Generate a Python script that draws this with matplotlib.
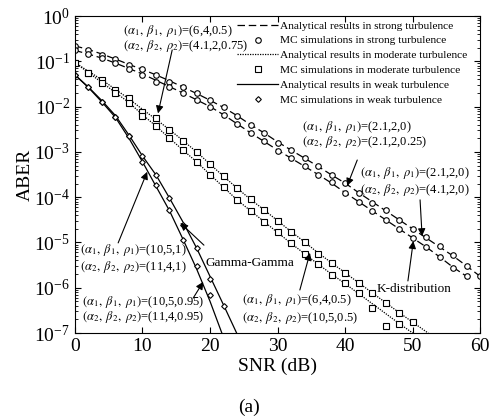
import matplotlib
matplotlib.use("Agg")
import matplotlib.pyplot as plt
from matplotlib.lines import Line2D
import numpy as np

plt.rcParams["font.family"] = ["Liberation Serif", "DejaVu Serif"]
plt.rcParams["mathtext.fontset"] = "stix"

# values are log10(ABER)
snr_strong = np.arange(0, 62, 2)
strong_a1 = [-0.66, -0.74, -0.84, -0.95, -1.07, -1.18, -1.30, -1.43, -1.57, -1.71,
             -1.86, -2.02, -2.20, -2.40, -2.58, -2.78, -2.96, -3.14, -3.32, -3.51,
             -3.69, -3.90, -4.10, -4.30, -4.50, -4.70, -4.90, -5.10, -5.30, -5.52, -5.75]
snr_strong2 = np.arange(0, 60, 2)
strong_a2 = [-0.76, -0.84, -0.93, -1.04, -1.16, -1.28, -1.42, -1.56, -1.70, -1.85,
             -2.00, -2.18, -2.38, -2.58, -2.77, -2.96, -3.14, -3.32, -3.50, -3.69,
             -3.90, -4.10, -4.30, -4.50, -4.70, -4.90, -5.10, -5.32, -5.55, -5.75]
strong_mc1 = [-0.66, -0.74, -0.85, -0.95, -1.08, -1.18, -1.30, -1.45, -1.57, -1.71,
              -1.86, -2.02, -2.20, -2.41, -2.59, -2.81, -2.96, -3.14, -3.32, -3.51,
              -3.68, -3.91, -4.13, -4.28, -4.50, -4.71, -4.87, -5.08, -5.28, -5.52, -5.75]
strong_mc2 = [-0.76, -0.84, -0.93, -1.04, -1.16, -1.30, -1.45, -1.57, -1.70, -1.85,
              -2.00, -2.18, -2.38, -2.59, -2.77, -2.97, -3.14, -3.32, -3.50, -3.66,
              -3.90, -4.10, -4.30, -4.50, -4.71, -4.91, -5.10, -5.33, -5.57, -5.75]

snr_mod1 = np.arange(0, 56, 2)
mod_a1 = [-1.03, -1.22, -1.41, -1.62, -1.83, -2.06, -2.28, -2.51, -2.75, -3.00,
          -3.27, -3.54, -3.80, -4.05, -4.28, -4.52, -4.76, -4.99, -5.23, -5.45,
          -5.67, -5.89, -6.11, -6.33, -6.55, -6.76, -6.97, -7.20]
snr_mod2 = np.arange(0, 54, 2)
mod_a2 = [-1.03, -1.25, -1.47, -1.69, -1.91, -2.18, -2.43, -2.70, -2.96, -3.22,
          -3.50, -3.78, -4.06, -4.30, -4.54, -4.78, -5.02, -5.25, -5.48, -5.70,
          -5.91, -6.13, -6.35, -6.57, -6.79, -7.00, -7.22]
snr_mod_mc1 = np.arange(0, 52, 2)
mod_mc1 = [-1.03, -1.25, -1.41, -1.63, -1.82, -2.11, -2.26, -2.52, -2.75, -3.00,
           -3.27, -3.54, -3.80, -4.05, -4.28, -4.52, -4.76, -4.98, -5.25, -5.46,
           -5.67, -5.89, -6.12, -6.33, -6.56, -6.75]
snr_mod_mc2 = np.arange(0, 50, 2)
mod_mc2 = [-1.03, -1.25, -1.47, -1.69, -1.91, -2.21, -2.43, -2.70, -2.96, -3.22,
           -3.50, -3.78, -4.06, -4.30, -4.54, -4.78, -5.02, -5.25, -5.47, -5.72,
           -5.90, -6.12, -6.45, -6.84, -6.80]

snr_weak1 = np.arange(0, 26, 2)
weak_a1 = [-1.30, -1.57, -1.87, -2.20, -2.63, -3.09, -3.51, -4.02, -4.55, -5.12,
           -5.75, -6.38, -7.02]
snr_weak2 = np.arange(0, 24, 2)
weak_a2 = [-1.30, -1.58, -1.90, -2.24, -2.70, -3.22, -3.76, -4.30, -4.93, -5.58,
           -6.30, -7.10]
snr_weak_mc1 = np.arange(0, 24, 2)
weak_mc1 = [-1.30, -1.57, -1.89, -2.22, -2.65, -3.09, -3.51, -4.02, -4.61, -5.12,
            -5.81, -6.40]
snr_weak_mc2 = np.arange(0, 22, 2)
weak_mc2 = [-1.30, -1.57, -1.89, -2.22, -2.65, -3.22, -3.73, -4.28, -4.94, -5.52,
            -6.16]

legend_labels = [
    "Analytical results in strong turbulence",
    "MC simulations in strong turbulence",
    "Analytical results in moderate turbulence",
    "MC simulations in moderate turbulence",
    "Analytical results in weak turbulence",
    "MC simulations in weak turbulence",
]


def ber(v):
    return np.power(10.0, np.asarray(v))


def two_lines(ax, x, y1, y2, l1, l2, fs=9):
    ax.text(x, y1, l1, fontsize=fs, ha="left", va="center")
    ax.text(x, y2, l2, fontsize=fs, ha="left", va="center")


def arrow(ax, tail, tip):
    ax.annotate("", xy=tip, xytext=tail,
                arrowprops=dict(arrowstyle="-|>", color="k", lw=0.8,
                                mutation_scale=11, shrinkA=0, shrinkB=0))


def main():
    fig = plt.figure(figsize=(4.93, 4.16), dpi=100)
    ax = fig.add_axes([0.152, 0.1995, 0.822, 0.762])

    dash = (0, (6, 3))
    dot = (0, (1, 1))
    mk = dict(ls="none", mfc="white", mec="k", mew=0.8)

    ax.plot(snr_strong, ber(strong_a1), color="k", lw=0.9, ls=dash)
    ax.plot(snr_strong2, ber(strong_a2), color="k", lw=0.9, ls=dash)
    ax.plot(snr_strong, ber(strong_mc1), marker="o", ms=4, **mk)
    ax.plot(snr_strong2, ber(strong_mc2), marker="o", ms=4, **mk)

    ax.plot(snr_mod1, ber(mod_a1), color="k", lw=0.9, ls=dot)
    ax.plot(snr_mod2, ber(mod_a2), color="k", lw=0.9, ls=dot)
    ax.plot(snr_mod_mc1, ber(mod_mc1), marker="s", ms=3.8, **mk)
    ax.plot(snr_mod_mc2, ber(mod_mc2), marker="s", ms=3.8, **mk)

    ax.plot(snr_weak1, ber(weak_a1), color="k", lw=0.9)
    ax.plot(snr_weak2, ber(weak_a2), color="k", lw=0.9)
    ax.plot(snr_weak_mc1, ber(weak_mc1), marker="D", ms=2.9, **mk)
    ax.plot(snr_weak_mc2, ber(weak_mc2), marker="D", ms=2.9, **mk)

    ax.set_yscale("log")
    ax.set_xlim(0, 60)
    ax.set_ylim(1e-7, 1)
    ax.set_xticks(np.arange(0, 61, 10))
    ax.tick_params(which="both", direction="in", top=True, right=True,
                   labelsize=14)
    ax.tick_params(which="major", length=4)
    ax.tick_params(which="minor", length=2)
    ax.set_xlabel("SNR (dB)", fontsize=14, labelpad=2)
    ax.set_ylabel("ABER", fontsize=14, labelpad=0)

    handles = [
        Line2D([], [], color="k", lw=0.9, ls=dash),
        Line2D([], [], marker="o", ms=4, **mk),
        Line2D([], [], color="k", lw=0.9, ls=dot),
        Line2D([], [], marker="s", ms=3.8, **mk),
        Line2D([], [], color="k", lw=0.9),
        Line2D([], [], marker="D", ms=2.9, **mk),
    ]
    ax.legend(handles, legend_labels, loc="upper left",
              bbox_to_anchor=(0.40, 0.985), frameon=False, fontsize=8.2,
              handlelength=3.6, handletextpad=0.2, labelspacing=0.42,
              borderpad=0, borderaxespad=0)

    a1 = r"$(\alpha_1,\ \beta_1,\ \rho_1)$"
    a2 = r"$(\alpha_2,\ \beta_2,\ \rho_2)$"

    two_lines(ax, 7.1, 10 ** -0.33, 10 ** -0.66, a1 + "=(6,4,0.5)", a2 + "=(4.1,2,0.75)")
    arrow(ax, (14.4, 10 ** -0.75), (12.3, 10 ** -2.15))

    two_lines(ax, 33.6, 10 ** -2.45, 10 ** -2.78, a1 + "=(2.1,2,0)", a2 + "=(2.1,2,0.25)")
    arrow(ax, (41.8, 10 ** -3.18), (40.3, 10 ** -3.75))

    two_lines(ax, 42.2, 10 ** -3.47, 10 ** -3.84, a1 + "=(2.1,2,0)", a2 + "=(4.1,2,0)")
    arrow(ax, (51.1, 10 ** -4.06), (51.4, 10 ** -4.86))

    ax.text(44.7, 10 ** -6.03, "K-distribution", fontsize=9.5, ha="left", va="center")
    arrow(ax, (49.3, 10 ** -5.85), (50.1, 10 ** -4.97))

    two_lines(ax, 24.7, 10 ** -6.27, 10 ** -6.67, a1 + "=(6,4,0.5)", a2 + "=(10,5,0.5)")
    arrow(ax, (33.3, 10 ** -6.05), (34.8, 10 ** -5.23))

    ax.text(19.3, 10 ** -5.45, "Gamma-Gamma", fontsize=9.5, ha="left", va="center")
    arrow(ax, (19.1, 10 ** -5.06), (15.6, 10 ** -4.57))

    two_lines(ax, 0.74, 10 ** -5.17, 10 ** -5.54, a1 + "=(10,5,1)", a2 + "=(11,4,1)")
    arrow(ax, (6.4, 10 ** -5.01), (10.7, 10 ** -3.44))

    two_lines(ax, 1.04, 10 ** -6.31, 10 ** -6.64, a1 + "=(10,5,0.95)", a2 + "=(11,4,0.95)")
    arrow(ax, (17.5, 10 ** -6.23), (19.0, 10 ** -5.87))

    fig.text(0.505, 0.022, "(a)", fontsize=14, ha="center", va="center")

    fig.savefig("out.png", dpi=100)


if __name__ == "__main__":
    main()
